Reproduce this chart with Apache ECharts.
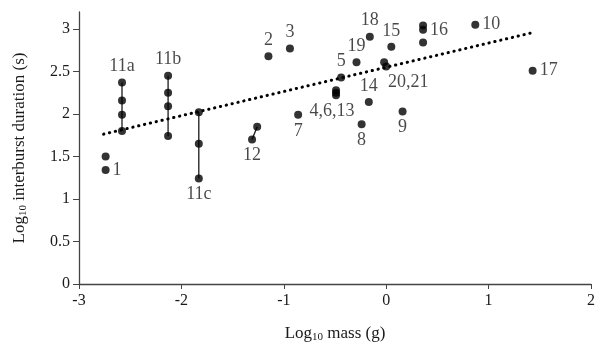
<!DOCTYPE html>
<html>
<head>
<meta charset="utf-8">
<script src="https://cdn.jsdelivr.net/npm/echarts@6/dist/echarts.min.js"></script>
<style>
  html, body { margin: 0; padding: 0; background: #fff; }
  #chart { width: 598px; height: 350px; }
</style>
</head>
<body>
<div id="chart"></div>
<script>
// species groups (label, log10 mass, log10 interburst duration)
const groupNames = ['1', '11a', '11b', '11c', '12', '2', '3', '4,6,13', '5', '7', '8', '9', '14', '15', '16', '18', '19', '20,21', '10', '17'];
const massX = [
  [-2.74, -2.74],
  [-2.58, -2.58, -2.58, -2.58],
  [-2.13, -2.13, -2.13, -2.13],
  [-1.83, -1.83, -1.83],
  [-1.31, -1.26],
  [-1.15],
  [-0.94],
  [-0.49, -0.49, -0.49],
  [-0.44],
  [-0.86],
  [-0.24],
  [0.16],
  [-0.17],
  [0.05],
  [0.36, 0.36, 0.36],
  [-0.16],
  [-0.29],
  [-0.02, 0.0],
  [0.87],
  [1.43]
];
const durationY = [
  [1.50, 1.34],
  [2.37, 2.16, 1.99, 1.80],
  [2.45, 2.25, 2.09, 1.74],
  [2.02, 1.65, 1.24],
  [1.70, 1.85],
  [2.68],
  [2.77],
  [2.28, 2.25, 2.22],
  [2.43],
  [1.99],
  [1.88],
  [2.03],
  [2.14],
  [2.79],
  [3.04, 2.99, 2.84],
  [2.91],
  [2.61],
  [2.61, 2.56],
  [3.05],
  [2.51]
];
const connectedGroups = ['11a', '11b', '11c', '12'];

// fitted trend line
const trendSlope = 0.285;
const trendIntercept = 2.55;
const trendRange = [-2.76, 1.41];

const xTicks = [-3, -2, -1, 0, 1, 2];
const yTicks = [0, 0.5, 1, 1.5, 2, 2.5, 3];

// where each group's label sits (which point, side, nudge)
const labelPlace = {
  '1': { idx: 1, pos: 'right' },
  '11a': { idx: 0, pos: 'top' },
  '11b': { idx: 0, pos: 'top' },
  '11c': { idx: 2, pos: 'bottom' },
  '12': { idx: 0, pos: 'bottom' },
  '4,6,13': { idx: 2, pos: 'bottom', offset: [-4, 0] },
  '7': { idx: 0, pos: 'bottom' },
  '8': { idx: 0, pos: 'bottom' },
  '9': { idx: 0, pos: 'bottom' },
  '16': { idx: 1, pos: 'right' },
  '10': { idx: 0, pos: 'right' },
  '17': { idx: 0, pos: 'right' },
  '20,21': { idx: 1, pos: 'bottom', offset: [22, 0] }
};

const FONT = '"Liberation Serif", "DejaVu Serif", serif';
const INK = '#1a1a1a';

const chart = echarts.init(document.getElementById('chart'), null, { renderer: 'canvas' });

const points = [];
groupNames.forEach((name, g) => {
  const place = labelPlace[name] || { idx: 0, pos: 'top' };
  massX[g].forEach((x, i) => {
    const item = { value: [x, durationY[g][i]] };
    if (i === place.idx) {
      item.label = {
        show: true,
        formatter: name,
        position: place.pos,
        distance: 3,
        offset: place.offset || [0, 0]
      };
    }
    points.push(item);
  });
});

const series = [];

connectedGroups.forEach((name) => {
  const g = groupNames.indexOf(name);
  series.push({
    type: 'line',
    data: massX[g].map((x, i) => [x, durationY[g][i]]),
    symbol: 'none',
    silent: true,
    lineStyle: { color: INK, width: 1.3 },
    z: 1
  });
});

// dotted trend: round caps on near-zero dashes give separate dots
series.push({
  type: 'line',
  data: trendRange.map((x) => [x, trendIntercept + trendSlope * x]),
  symbol: 'none',
  silent: true,
  lineStyle: { color: '#000', width: 3, type: [0.3, 5.7], cap: 'round' },
  z: 1
});

series.push({
  type: 'scatter',
  data: points,
  symbol: 'circle',
  symbolSize: 8,
  itemStyle: { color: '#000' },
  label: {
    show: false,
    color: INK,
    fontFamily: FONT,
    fontSize: 18
  },
  z: 3
});

const option = {
  backgroundColor: '#fff',
  animation: false,
  grid: { left: 79, right: 7, top: 12, bottom: 66 },
  xAxis: {
    type: 'value',
    min: -3,
    max: 2,
    interval: 1,
    name: 'Log{sub|10} mass (g)',
    nameLocation: 'middle',
    nameGap: 40,
    nameTextStyle: {
      color: INK,
      fontFamily: FONT,
      fontSize: 17,
      rich: { sub: { fontFamily: FONT, fontSize: 11, color: INK, verticalAlign: 'bottom', padding: [8, 0, 0, 0] } }
    },
    axisLine: { onZero: false, lineStyle: { color: '#444', width: 1.3 } },
    axisTick: { show: true, length: 5, inside: false, lineStyle: { color: '#444' }, customValues: xTicks },
    axisLabel: { color: INK, fontFamily: FONT, fontSize: 16, margin: 9, customValues: xTicks },
    splitLine: { show: false }
  },
  yAxis: {
    type: 'value',
    min: 0,
    max: 3.2,
    interval: 0.5,
    name: 'Log{sub|10} interburst duration (s)',
    nameLocation: 'middle',
    nameGap: 50,
    nameTextStyle: {
      color: INK,
      fontFamily: FONT,
      fontSize: 17,
      rich: { sub: { fontFamily: FONT, fontSize: 11, color: INK, verticalAlign: 'bottom', padding: [8, 0, 0, 0] } }
    },
    axisLine: { show: true, onZero: false, lineStyle: { color: '#444', width: 1.3 } },
    axisTick: { show: true, length: 6, inside: false, lineStyle: { color: '#444' }, customValues: yTicks },
    axisLabel: { color: INK, fontFamily: FONT, fontSize: 16, margin: 9, customValues: yTicks },
    splitLine: { show: false }
  },
  series: series
};

chart.setOption(option);
</script>
</body>
</html>
